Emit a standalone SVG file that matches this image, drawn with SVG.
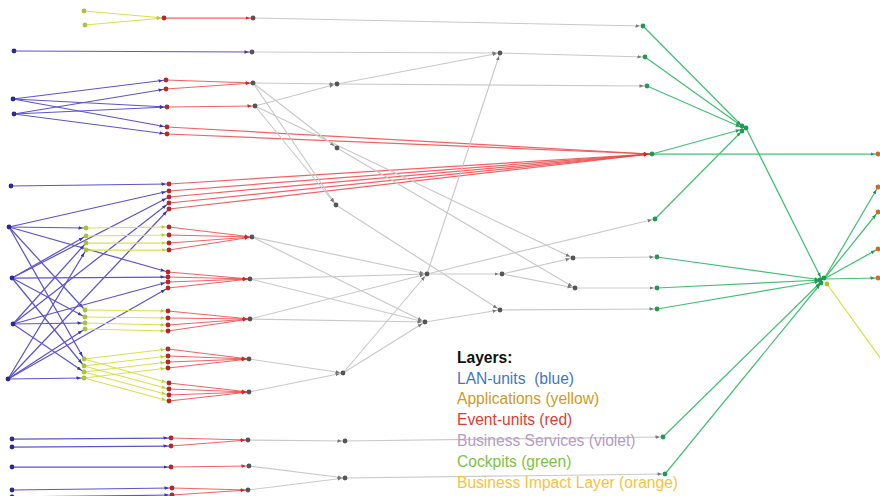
<svg xmlns="http://www.w3.org/2000/svg" width="880" height="496" viewBox="0 0 880 496">
<style>
line{fill:none;stroke-width:1.25}
.eb{stroke:#5e54cc;marker-end:url(#ab)}
.ey{stroke:#d8e24a;marker-end:url(#ay)}
.er{stroke:#ee4848;stroke-opacity:.85;marker-end:url(#ar)}
.eg{stroke:#c9c9c9;stroke-width:1.15;marker-end:url(#ag)}
.en{stroke:#44c074;marker-end:url(#an)}
.nb{fill:#2c2a92}.ny{fill:#a9c23c}.nr{fill:#b9262a}.ng{fill:#555}.nn{fill:#1e9a52}.no{fill:#c4702c}
circle{r:2.4}
text{font-family:"Liberation Sans",Arial,sans-serif;font-size:15.6px;white-space:pre}
</style>
<defs>
<marker id="ab" viewBox="0 0 6 6" refX="7.5" refY="3" markerWidth="6" markerHeight="6" markerUnits="userSpaceOnUse" orient="auto"><path d="M0,1.2 L4.2,3 L0,4.8z" fill="#3a32b0"/></marker>
<marker id="ay" viewBox="0 0 6 6" refX="7.5" refY="3" markerWidth="6" markerHeight="6" markerUnits="userSpaceOnUse" orient="auto"><path d="M0,1.2 L4.2,3 L0,4.8z" fill="#bccf2e"/></marker>
<marker id="ar" viewBox="0 0 6 6" refX="7.5" refY="3" markerWidth="6" markerHeight="6" markerUnits="userSpaceOnUse" orient="auto"><path d="M0,1.2 L4.2,3 L0,4.8z" fill="#e02020"/></marker>
<marker id="ag" viewBox="0 0 6 6" refX="7.5" refY="3" markerWidth="6" markerHeight="6" markerUnits="userSpaceOnUse" orient="auto"><path d="M0,1.2 L4.2,3 L0,4.8z" fill="#777"/></marker>
<marker id="an" viewBox="0 0 6 6" refX="7.5" refY="3" markerWidth="6" markerHeight="6" markerUnits="userSpaceOnUse" orient="auto"><path d="M0,1.2 L4.2,3 L0,4.8z" fill="#1e9a52"/></marker>
</defs>
<g id="connectors">
<line class="eb" x1="14" y1="51" x2="252" y2="52"/>
<line class="eb" x1="13" y1="99" x2="166" y2="80"/><line class="eb" x1="13" y1="99" x2="167" y2="107"/><line class="eb" x1="13" y1="99" x2="167" y2="127"/>
<line class="eb" x1="14" y1="114" x2="166" y2="89"/><line class="eb" x1="14" y1="114" x2="167" y2="107"/><line class="eb" x1="14" y1="114" x2="167" y2="134"/>
<line class="eb" x1="11" y1="186" x2="169" y2="184"/>
<line class="eb" x1="9" y1="227" x2="169" y2="191"/><line class="eb" x1="9" y1="227" x2="86" y2="228"/><line class="eb" x1="9" y1="227" x2="85" y2="310"/><line class="eb" x1="9" y1="227" x2="84" y2="359"/><line class="eb" x1="9" y1="227" x2="168" y2="272"/>
<line class="eb" x1="12" y1="278" x2="169" y2="197"/><line class="eb" x1="12" y1="278" x2="86" y2="236"/><line class="eb" x1="12" y1="278" x2="85" y2="317"/><line class="eb" x1="12" y1="278" x2="84" y2="366"/><line class="eb" x1="12" y1="278" x2="168" y2="277"/>
<line class="eb" x1="13" y1="324" x2="169" y2="203"/><line class="eb" x1="13" y1="324" x2="86" y2="243"/><line class="eb" x1="13" y1="324" x2="85" y2="323"/><line class="eb" x1="13" y1="324" x2="84" y2="372"/><line class="eb" x1="13" y1="324" x2="168" y2="282"/>
<line class="eb" x1="8" y1="379" x2="169" y2="209"/><line class="eb" x1="8" y1="379" x2="86" y2="250"/><line class="eb" x1="8" y1="379" x2="85" y2="329"/><line class="eb" x1="8" y1="379" x2="84" y2="378"/><line class="eb" x1="8" y1="379" x2="168" y2="288"/>
<line class="eb" x1="12" y1="439" x2="171" y2="438"/><line class="eb" x1="12" y1="447" x2="171" y2="446"/><line class="eb" x1="12" y1="467" x2="171" y2="467"/><line class="eb" x1="12" y1="490" x2="172" y2="488"/><line class="eb" x1="12" y1="497" x2="172" y2="495"/>

<line class="ey" x1="84" y1="11" x2="164" y2="18"/><line class="ey" x1="85" y1="25" x2="164" y2="18"/>
<line class="ey" x1="86" y1="228" x2="169" y2="227"/><line class="ey" x1="86" y1="236" x2="169" y2="235"/><line class="ey" x1="86" y1="243" x2="169" y2="243"/><line class="ey" x1="86" y1="250" x2="169" y2="250"/>
<line class="ey" x1="85" y1="310" x2="168" y2="311"/><line class="ey" x1="85" y1="317" x2="168" y2="318"/><line class="ey" x1="85" y1="323" x2="168" y2="325"/><line class="ey" x1="85" y1="329" x2="168" y2="331"/>
<line class="ey" x1="84" y1="359" x2="168" y2="349"/><line class="ey" x1="84" y1="366" x2="168" y2="356"/><line class="ey" x1="84" y1="372" x2="168" y2="362"/><line class="ey" x1="84" y1="378" x2="168" y2="368"/>
<line class="ey" x1="84" y1="359" x2="169" y2="383"/><line class="ey" x1="84" y1="366" x2="169" y2="389"/><line class="ey" x1="84" y1="372" x2="169" y2="395"/><line class="ey" x1="84" y1="378" x2="169" y2="401"/>
<line class="ey" x1="827" y1="284" x2="886" y2="366"/>

<line class="er" x1="164" y1="18" x2="253" y2="18"/>
<line class="er" x1="166" y1="80" x2="253" y2="83"/><line class="er" x1="166" y1="89" x2="253" y2="83"/><line class="er" x1="167" y1="107" x2="255" y2="106"/>
<line class="er" x1="167" y1="127" x2="651" y2="154"/><line class="er" x1="167" y1="134" x2="651" y2="154"/>
<line class="er" x1="169" y1="184" x2="651" y2="154"/><line class="er" x1="169" y1="191" x2="651" y2="154"/><line class="er" x1="169" y1="197" x2="651" y2="154"/><line class="er" x1="169" y1="203" x2="651" y2="154"/><line class="er" x1="169" y1="209" x2="651" y2="154"/>
<line class="er" x1="169" y1="227" x2="252" y2="237"/><line class="er" x1="169" y1="235" x2="252" y2="237"/><line class="er" x1="169" y1="243" x2="252" y2="237"/><line class="er" x1="169" y1="250" x2="252" y2="237"/>
<line class="er" x1="168" y1="272" x2="250" y2="279"/><line class="er" x1="168" y1="277" x2="250" y2="279"/><line class="er" x1="168" y1="282" x2="250" y2="279"/><line class="er" x1="168" y1="288" x2="250" y2="279"/>
<line class="er" x1="168" y1="311" x2="250" y2="319"/><line class="er" x1="168" y1="318" x2="250" y2="319"/><line class="er" x1="168" y1="325" x2="250" y2="319"/><line class="er" x1="168" y1="331" x2="250" y2="319"/>
<line class="er" x1="168" y1="349" x2="249" y2="359"/><line class="er" x1="168" y1="356" x2="249" y2="359"/><line class="er" x1="168" y1="362" x2="249" y2="359"/><line class="er" x1="168" y1="368" x2="249" y2="359"/>
<line class="er" x1="169" y1="383" x2="249" y2="392"/><line class="er" x1="169" y1="389" x2="249" y2="392"/><line class="er" x1="169" y1="395" x2="249" y2="392"/><line class="er" x1="169" y1="401" x2="249" y2="392"/>
<line class="er" x1="171" y1="438" x2="248" y2="440"/><line class="er" x1="171" y1="446" x2="248" y2="440"/>
<line class="er" x1="171" y1="467" x2="249" y2="466"/>
<line class="er" x1="172" y1="488" x2="248" y2="490"/><line class="er" x1="172" y1="495" x2="248" y2="490"/>

<line class="eg" x1="253" y1="18" x2="643" y2="26"/>
<line class="eg" x1="252" y1="52" x2="500" y2="53"/>
<line class="eg" x1="500" y1="53" x2="645" y2="57"/>
<line class="eg" x1="253" y1="83" x2="337" y2="84"/>
<line class="eg" x1="255" y1="106" x2="337" y2="84"/>
<line class="eg" x1="337" y1="84" x2="500" y2="53"/>
<line class="eg" x1="337" y1="84" x2="647" y2="86"/>
<line class="eg" x1="253" y1="83" x2="337" y2="148"/>
<line class="eg" x1="253" y1="83" x2="336" y2="205"/>
<line class="eg" x1="255" y1="106" x2="336" y2="205"/>
<line class="eg" x1="255" y1="106" x2="573" y2="258"/>
<line class="eg" x1="337" y1="148" x2="575" y2="288"/>
<line class="eg" x1="336" y1="205" x2="500" y2="310"/>
<line class="eg" x1="427" y1="274" x2="500" y2="53"/>
<line class="eg" x1="252" y1="237" x2="427" y2="274"/>
<line class="eg" x1="252" y1="237" x2="425" y2="322"/>
<line class="eg" x1="250" y1="279" x2="427" y2="274"/>
<line class="eg" x1="250" y1="279" x2="425" y2="322"/>
<line class="eg" x1="250" y1="319" x2="427" y2="274"/>
<line class="eg" x1="250" y1="319" x2="425" y2="322"/>
<line class="eg" x1="343" y1="373" x2="427" y2="274"/>
<line class="eg" x1="343" y1="373" x2="425" y2="322"/>
<line class="eg" x1="249" y1="359" x2="343" y2="373"/>
<line class="eg" x1="249" y1="392" x2="343" y2="373"/>
<line class="eg" x1="427" y1="274" x2="502" y2="274"/>
<line class="eg" x1="502" y1="274" x2="573" y2="258"/>
<line class="eg" x1="502" y1="274" x2="575" y2="288"/>
<line class="eg" x1="427" y1="274" x2="655" y2="219"/>
<line class="eg" x1="425" y1="322" x2="500" y2="310"/>
<line class="eg" x1="500" y1="310" x2="657" y2="309"/>
<line class="eg" x1="573" y1="258" x2="657" y2="257"/>
<line class="eg" x1="575" y1="288" x2="657" y2="288"/>
<line class="eg" x1="248" y1="440" x2="345" y2="441"/>
<line class="eg" x1="345" y1="441" x2="663" y2="437"/>
<line class="eg" x1="249" y1="466" x2="345" y2="478"/>
<line class="eg" x1="248" y1="490" x2="345" y2="478"/>
<line class="eg" x1="345" y1="478" x2="665" y2="474"/>

<line class="en" x1="643" y1="26" x2="743" y2="127"/>
<line class="en" x1="645" y1="57" x2="743" y2="127"/>
<line class="en" x1="647" y1="86" x2="743" y2="128"/>
<line class="en" x1="652" y1="154" x2="743" y2="129"/>
<line class="en" x1="655" y1="219" x2="743" y2="130"/>
<line class="en" x1="652" y1="154" x2="878" y2="154"/>
<line class="en" x1="746" y1="128" x2="822" y2="280"/>
<line class="en" x1="657" y1="257" x2="822" y2="280"/>
<line class="en" x1="657" y1="288" x2="822" y2="280"/>
<line class="en" x1="657" y1="309" x2="822" y2="281"/>
<line class="en" x1="663" y1="437" x2="822" y2="281"/>
<line class="en" x1="665" y1="474" x2="822" y2="282"/>
<line class="en" x1="824" y1="279" x2="878" y2="187"/>
<line class="en" x1="824" y1="279" x2="878" y2="212"/>
<line class="en" x1="824" y1="279" x2="878" y2="249"/>
<line class="en" x1="824" y1="279" x2="878" y2="278"/>
</g>

<g id="y0a"><circle class="ny" cx="84" cy="11"/></g>
<g id="y0b"><circle class="ny" cx="85" cy="25"/></g>
<g id="y1a"><circle class="ny" cx="86" cy="228"/></g>
<g id="y1b"><circle class="ny" cx="86" cy="236"/></g>
<g id="y1c"><circle class="ny" cx="86" cy="243"/></g>
<g id="y1d"><circle class="ny" cx="86" cy="250"/></g>
<g id="y2a"><circle class="ny" cx="85" cy="310"/></g>
<g id="y2b"><circle class="ny" cx="85" cy="317"/></g>
<g id="y2c"><circle class="ny" cx="85" cy="323"/></g>
<g id="y2d"><circle class="ny" cx="85" cy="329"/></g>
<g id="y3a"><circle class="ny" cx="84" cy="359"/></g>
<g id="y3b"><circle class="ny" cx="84" cy="366"/></g>
<g id="y3c"><circle class="ny" cx="84" cy="372"/></g>
<g id="y3d"><circle class="ny" cx="84" cy="378"/></g>
<g id="y4"><circle class="ny" cx="827" cy="284" r="2"/></g>

<g id="b0"><circle class="nb" cx="14" cy="51"/></g>
<g id="b1"><circle class="nb" cx="13" cy="99"/></g>
<g id="b2"><circle class="nb" cx="14" cy="114"/></g>
<g id="b3"><circle class="nb" cx="11" cy="186"/></g>
<g id="b4"><circle class="nb" cx="9" cy="227"/></g>
<g id="b5"><circle class="nb" cx="12" cy="278"/></g>
<g id="b6"><circle class="nb" cx="13" cy="324"/></g>
<g id="b7"><circle class="nb" cx="8" cy="379"/></g>
<g id="b8"><circle class="nb" cx="12" cy="439"/></g>
<g id="b9"><circle class="nb" cx="12" cy="447"/></g>
<g id="b10"><circle class="nb" cx="12" cy="467"/></g>
<g id="b11"><circle class="nb" cx="12" cy="490"/></g>
<g id="b12"><circle class="nb" cx="12" cy="497"/></g>

<g id="r0"><circle class="nr" cx="164" cy="18"/></g>
<g id="r1"><circle class="nr" cx="166" cy="80"/></g>
<g id="r2"><circle class="nr" cx="166" cy="89"/></g>
<g id="r3"><circle class="nr" cx="167" cy="107"/></g>
<g id="r4"><circle class="nr" cx="167" cy="127"/></g>
<g id="r5"><circle class="nr" cx="167" cy="134"/></g>
<g id="r6"><circle class="nr" cx="169" cy="184"/></g>
<g id="r7"><circle class="nr" cx="169" cy="191"/></g>
<g id="r8"><circle class="nr" cx="169" cy="197"/></g>
<g id="r9"><circle class="nr" cx="169" cy="203"/></g>
<g id="r10"><circle class="nr" cx="169" cy="209"/></g>
<g id="r11"><circle class="nr" cx="169" cy="227"/></g>
<g id="r12"><circle class="nr" cx="169" cy="235"/></g>
<g id="r13"><circle class="nr" cx="169" cy="243"/></g>
<g id="r14"><circle class="nr" cx="169" cy="250"/></g>
<g id="r15"><circle class="nr" cx="168" cy="272"/></g>
<g id="r16"><circle class="nr" cx="168" cy="277"/></g>
<g id="r17"><circle class="nr" cx="168" cy="282"/></g>
<g id="r18"><circle class="nr" cx="168" cy="288"/></g>
<g id="r19"><circle class="nr" cx="168" cy="311"/></g>
<g id="r20"><circle class="nr" cx="168" cy="318"/></g>
<g id="r21"><circle class="nr" cx="168" cy="325"/></g>
<g id="r22"><circle class="nr" cx="168" cy="331"/></g>
<g id="r23"><circle class="nr" cx="168" cy="349"/></g>
<g id="r24"><circle class="nr" cx="168" cy="356"/></g>
<g id="r25"><circle class="nr" cx="168" cy="362"/></g>
<g id="r26"><circle class="nr" cx="168" cy="368"/></g>
<g id="r27"><circle class="nr" cx="169" cy="383"/></g>
<g id="r28"><circle class="nr" cx="169" cy="389"/></g>
<g id="r29"><circle class="nr" cx="169" cy="395"/></g>
<g id="r30"><circle class="nr" cx="169" cy="401"/></g>
<g id="r31"><circle class="nr" cx="171" cy="438"/></g>
<g id="r32"><circle class="nr" cx="171" cy="446"/></g>
<g id="r33"><circle class="nr" cx="171" cy="467"/></g>
<g id="r34"><circle class="nr" cx="172" cy="488"/></g>
<g id="r35"><circle class="nr" cx="172" cy="495"/></g>

<g id="g1"><circle class="ng" cx="253" cy="18"/></g>
<g id="g2"><circle class="ng" cx="252" cy="52"/></g>
<g id="g3"><circle class="ng" cx="253" cy="83"/></g>
<g id="g4"><circle class="ng" cx="255" cy="106"/></g>
<g id="g5"><circle class="ng" cx="252" cy="237"/></g>
<g id="g6"><circle class="ng" cx="250" cy="279"/></g>
<g id="g7"><circle class="ng" cx="250" cy="319"/></g>
<g id="g8"><circle class="ng" cx="249" cy="359"/></g>
<g id="g9"><circle class="ng" cx="249" cy="392"/></g>
<g id="g10"><circle class="ng" cx="248" cy="440"/></g>
<g id="g11"><circle class="ng" cx="249" cy="466"/></g>
<g id="g12"><circle class="ng" cx="248" cy="490"/></g>
<g id="g13"><circle class="ng" cx="337" cy="84"/></g>
<g id="g14"><circle class="ng" cx="337" cy="148"/></g>
<g id="g15"><circle class="ng" cx="336" cy="205"/></g>
<g id="g16"><circle class="ng" cx="343" cy="373"/></g>
<g id="g17"><circle class="ng" cx="345" cy="441"/></g>
<g id="g18"><circle class="ng" cx="345" cy="478"/></g>
<g id="g19"><circle class="ng" cx="500" cy="53"/></g>
<g id="g20"><circle class="ng" cx="427" cy="274"/></g>
<g id="g21"><circle class="ng" cx="425" cy="322"/></g>
<g id="g22"><circle class="ng" cx="502" cy="274"/></g>
<g id="g23"><circle class="ng" cx="500" cy="310"/></g>
<g id="g24"><circle class="ng" cx="573" cy="258"/></g>
<g id="g25"><circle class="ng" cx="575" cy="288"/></g>

<g id="c1"><circle class="nn" cx="643" cy="26"/></g>
<g id="c2"><circle class="nn" cx="645" cy="57"/></g>
<g id="c3"><circle class="nn" cx="647" cy="86"/></g>
<g id="c4"><circle class="nn" cx="652" cy="154"/></g>
<g id="c5"><circle class="nn" cx="655" cy="219"/></g>
<g id="c6"><circle class="nn" cx="657" cy="257"/></g>
<g id="c7"><circle class="nn" cx="657" cy="288"/></g>
<g id="c8"><circle class="nn" cx="657" cy="309"/></g>
<g id="c9"><circle class="nn" cx="663" cy="437"/></g>
<g id="c10"><circle class="nn" cx="665" cy="474"/></g>
<g id="h1"><circle class="nn" cx="742" cy="126"/><circle class="nn" cx="746" cy="128"/><circle class="nn" cx="742" cy="131"/></g>
<g id="h2"><circle class="nn" cx="820" cy="280"/><circle class="nn" cx="824" cy="278"/><circle class="nn" cx="821" cy="283"/></g>

<g id="o1"><circle class="no" cx="878" cy="154"/></g>
<g id="o2"><circle class="no" cx="878" cy="187"/></g>
<g id="o3"><circle class="no" cx="878" cy="212"/></g>
<g id="o4"><circle class="no" cx="878" cy="249"/></g>
<g id="o5"><circle class="no" cx="878" cy="278"/></g>

<g id="legend">
<text x="457" y="363" fill="#111" font-weight="bold">Layers:</text>
<text x="457" y="384" fill="#3f78c0">LAN-units  (blue)</text>
<text x="457" y="404" fill="#d09a1c">Applications (yellow)</text>
<text x="457" y="425" fill="#e33a36">Event-units (red)</text>
<text x="457" y="446" fill="#b79ac6">Business Services (violet)</text>
<text x="457" y="467" fill="#7cc244">Cockpits (green)</text>
<text x="457" y="488" fill="#f6c33e">Business Impact Layer (orange)</text>
</g>
</svg>
